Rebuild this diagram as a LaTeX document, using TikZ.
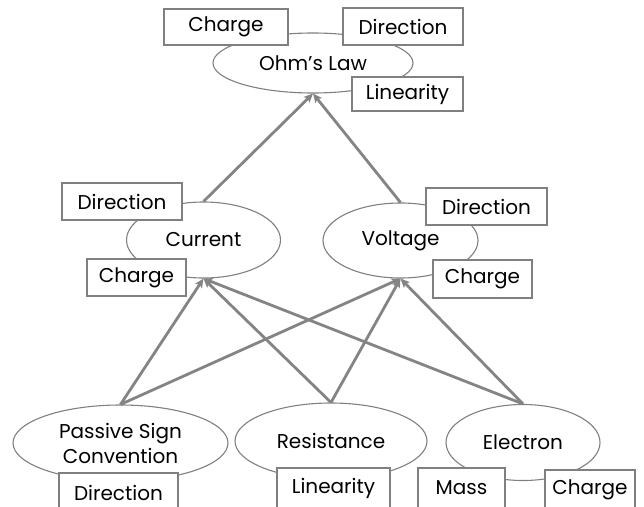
\documentclass[tikz,border=0pt]{standalone}
\usepackage{fontspec}
\setmainfont{Poppins}
\usetikzlibrary{shapes.geometric,arrows.meta}
\definecolor{lgray}{RGB}{128,128,128}
\definecolor{agray}{RGB}{132,132,132}
\begin{document}
\begin{tikzpicture}[x=1pt,y=-1pt,
  every node/.style={font=\fontsize{20}{25}\selectfont, text=black},
  oval/.style={ellipse, draw=lgray, line width=1.1pt, fill=white, inner sep=0pt, align=center},
  tag/.style={rectangle, draw=lgray, line width=1.4pt, fill=white, inner sep=0pt},
  link/.style={draw=agray, line width=2.8pt, -{Stealth[length=9pt,width=8pt,inset=2pt]}, shorten >=0pt}
]
\useasboundingbox (0,0) rectangle (644,506);
\clip (0,0) rectangle (644,506);
\fill[white] (0,0) rectangle (644,506);

% ellipses
\node[oval, minimum width=200pt, minimum height=60pt] (ohm) at (313,63) {Ohm's Law};
\node[oval, minimum width=154pt, minimum height=76pt] (cur) at (203.5,240) {Current};
\node[oval, minimum width=155pt, minimum height=75pt] (vol) at (400.5,240.5) {Voltage};
\node[oval, minimum width=215pt, minimum height=76pt] (psc) at (120.5,443) {Passive Sign\\Convention};
\node[oval, minimum width=192pt, minimum height=76pt] (res) at (331,441) {Resistance};
\node[oval, minimum width=154pt, minimum height=76pt] (ele) at (523,442.5) {Electron};

% arrows
\draw[link] (cur.north) -- (ohm.south);
\draw[link] (vol.north) -- (ohm.south);
\draw[link] (psc.north) -- (cur.south);
\draw[link] (psc.north) -- (vol.south);
\draw[link] (res.north) -- (cur.south);
\draw[link] (res.north) -- (vol.south);
\draw[link] (ele.north) -- (cur.south);
\draw[link] (ele.north) -- (vol.south);

% boxes
\node[tag, minimum width=124pt, minimum height=36pt] (ohmc) at (226,27) {Charge};
\node[tag, minimum width=120pt, minimum height=37pt] (ohmd) at (403,26.5) {Direction};
\node[tag, minimum width=111pt, minimum height=34pt] (ohml) at (407.5,94) {Linearity};
\node[tag, minimum width=120pt, minimum height=37pt] (curd) at (122,201.5) {Direction};
\node[tag, minimum width=99pt, minimum height=37pt] (curc) at (136.5,277.5) {Charge};
\node[tag, minimum width=121pt, minimum height=37pt] (vold) at (486.5,206.5) {Direction};
\node[tag, minimum width=99pt, minimum height=38pt] (volc) at (482.5,279) {Charge};
\node[tag, minimum width=119pt, minimum height=40pt] (pscd) at (118.5,493) {Direction};
\node[tag, minimum width=113pt, minimum height=40pt] (resl) at (333.5,488) {Linearity};
\node[tag, minimum width=87pt, minimum height=40pt] (elem) at (461.5,488) {Mass};
\node[tag, minimum width=90pt, minimum height=40pt] (elec) at (590,490) {Charge};
\end{tikzpicture}
\end{document}
